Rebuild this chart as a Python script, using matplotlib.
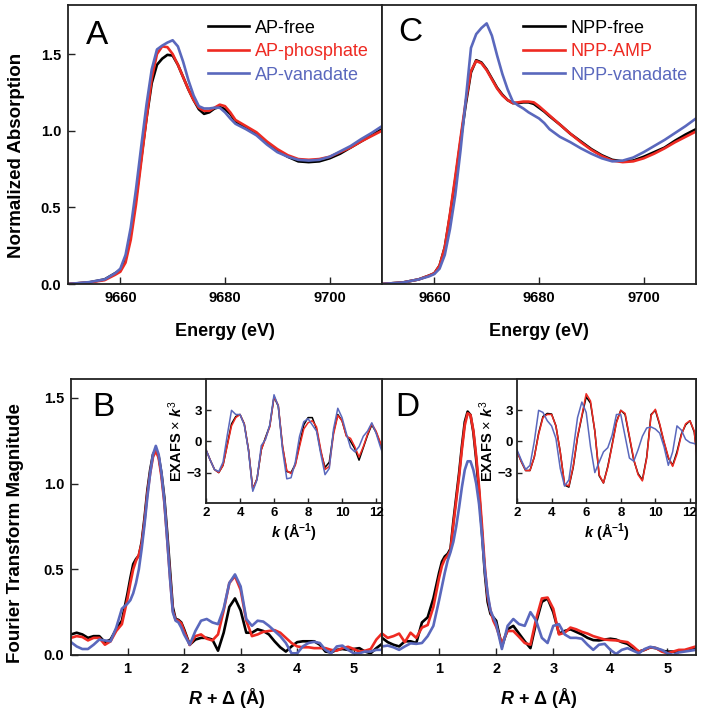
import matplotlib
matplotlib.use("Agg")
import matplotlib.pyplot as plt
from matplotlib.ticker import FormatStrFormatter

plt.rcParams['font.family'] = ['Liberation Sans', 'DejaVu Sans']
plt.rcParams['mathtext.fontset'] = 'custom'
plt.rcParams['mathtext.rm'] = 'Liberation Sans'
plt.rcParams['mathtext.it'] = 'Liberation Sans:italic:bold'
plt.rcParams['mathtext.bf'] = 'Liberation Sans:bold'

BLACK = '#000000'
RED = '#ee2a22'
BLUE = '#5a68bd'

# ---------------- XANES (panels A, C) ----------------
energy = [9650, 9654, 9657, 9659, 9660, 9661, 9662, 9663, 9664, 9665, 9666, 9667, 9668,
          9669, 9670, 9671, 9672, 9673, 9674, 9675, 9676, 9677, 9678, 9679, 9680, 9681,
          9682, 9684, 9686, 9688, 9690, 9692, 9694, 9696, 9698, 9700, 9702, 9704, 9706,
          9708, 9710]

ap_free = [0.0, 0.01, 0.03, 0.07, 0.09, 0.17, 0.33, 0.56, 0.82, 1.08, 1.31, 1.43, 1.47,
           1.495, 1.49, 1.43, 1.35, 1.27, 1.20, 1.14, 1.11, 1.12, 1.145, 1.155, 1.14, 1.11,
           1.06, 1.02, 0.98, 0.92, 0.87, 0.83, 0.80, 0.795, 0.80, 0.82, 0.85, 0.89, 0.93,
           0.97, 1.01]
ap_phosphate = [0.0, 0.01, 0.025, 0.06, 0.08, 0.14, 0.29, 0.52, 0.80, 1.08, 1.34, 1.50, 1.55,
                1.545, 1.50, 1.43, 1.35, 1.27, 1.20, 1.15, 1.13, 1.13, 1.15, 1.17, 1.16, 1.12,
                1.07, 1.03, 0.99, 0.93, 0.88, 0.84, 0.815, 0.81, 0.815, 0.83, 0.86, 0.89, 0.93,
                0.965, 1.0]
ap_vanadate = [0.0, 0.012, 0.03, 0.07, 0.10, 0.19, 0.37, 0.62, 0.90, 1.17, 1.40, 1.53, 1.555,
               1.575, 1.59, 1.55, 1.45, 1.33, 1.23, 1.16, 1.145, 1.145, 1.15, 1.15, 1.12, 1.08,
               1.045, 1.01, 0.97, 0.91, 0.86, 0.83, 0.81, 0.805, 0.81, 0.83, 0.865, 0.90, 0.945,
               0.985, 1.03]

npp_free = [0.0, 0.01, 0.03, 0.055, 0.07, 0.12, 0.24, 0.45, 0.68, 0.93, 1.17, 1.38, 1.46,
            1.445, 1.40, 1.34, 1.28, 1.235, 1.20, 1.18, 1.18, 1.185, 1.185, 1.175, 1.15, 1.125,
            1.095, 1.04, 0.98, 0.93, 0.88, 0.84, 0.81, 0.80, 0.805, 0.83, 0.86, 0.89, 0.935,
            0.975, 1.01]
npp_amp = [0.0, 0.01, 0.03, 0.055, 0.07, 0.12, 0.24, 0.46, 0.70, 0.95, 1.19, 1.39, 1.455,
           1.44, 1.395, 1.335, 1.275, 1.23, 1.20, 1.18, 1.185, 1.19, 1.19, 1.185, 1.16, 1.13,
           1.10, 1.04, 0.98, 0.925, 0.875, 0.835, 0.805, 0.795, 0.80, 0.82, 0.85, 0.885, 0.925,
           0.96, 0.995]
npp_vanadate = [0.0, 0.01, 0.03, 0.05, 0.065, 0.10, 0.19, 0.36, 0.58, 0.87, 1.20, 1.54, 1.63,
                1.67, 1.70, 1.62, 1.49, 1.37, 1.27, 1.19, 1.165, 1.145, 1.12, 1.10, 1.08, 1.05,
                1.01, 0.96, 0.925, 0.885, 0.85, 0.82, 0.80, 0.805, 0.825, 0.86, 0.90, 0.94,
                0.985, 1.03, 1.08]

# ---------------- Fourier transforms (panels B, D) ----------------
r_delta = [0.0, 0.1, 0.2, 0.3, 0.4, 0.5, 0.6, 0.7, 0.8, 0.9,
           1.0, 1.05, 1.1, 1.15, 1.2, 1.25, 1.3, 1.35, 1.4, 1.45, 1.5, 1.55, 1.6, 1.65, 1.7,
           1.75, 1.8, 1.85, 1.9, 1.95, 2.0,
           2.1, 2.2, 2.3, 2.4, 2.5, 2.6, 2.7, 2.8, 2.9, 3.0, 3.1, 3.2, 3.3, 3.4, 3.5, 3.6,
           3.7, 3.8, 3.9, 4.0, 4.1, 4.2, 4.3, 4.4, 4.5, 4.6, 4.7, 4.8, 4.9, 5.0, 5.1, 5.2,
           5.3, 5.4, 5.5]

ft_ap_free = [0.12, 0.13, 0.12, 0.10, 0.11, 0.11, 0.075, 0.09, 0.15, 0.20,
              0.36, 0.45, 0.53, 0.56, 0.58, 0.66, 0.80, 0.96, 1.08, 1.17, 1.20, 1.16, 1.06,
              0.92, 0.72, 0.50, 0.28, 0.21, 0.205, 0.19, 0.15,
              0.06, 0.09, 0.10, 0.10, 0.09, 0.025, 0.13, 0.28, 0.33, 0.26, 0.13, 0.13, 0.15,
              0.14, 0.12, 0.08, 0.045, 0.02, 0.05, 0.075, 0.08, 0.08, 0.08, 0.06, 0.02, 0.015,
              0.03, 0.035, 0.03, 0.035, 0.04, 0.02, 0.01, 0.04, 0.065]
ft_ap_phosphate = [0.10, 0.11, 0.105, 0.085, 0.10, 0.10, 0.06, 0.08, 0.14, 0.18,
                   0.33, 0.42, 0.50, 0.55, 0.585, 0.65, 0.78, 0.94, 1.06, 1.155, 1.19, 1.15,
                   1.04, 0.89, 0.68, 0.46, 0.26, 0.205, 0.20, 0.185, 0.14,
                   0.058, 0.11, 0.12, 0.095, 0.085, 0.12, 0.26, 0.42, 0.46, 0.38, 0.20, 0.11,
                   0.12, 0.135, 0.14, 0.145, 0.13, 0.10, 0.07, 0.05, 0.045, 0.045, 0.04, 0.04,
                   0.04, 0.03, 0.025, 0.04, 0.048, 0.035, 0.02, 0.025, 0.035, 0.09, 0.126]
ft_ap_vanadate = [0.075, 0.05, 0.035, 0.035, 0.06, 0.09, 0.085, 0.08, 0.16, 0.27,
                  0.30, 0.32, 0.36, 0.42, 0.50, 0.62, 0.76, 0.92, 1.06, 1.17, 1.22, 1.17,
                  1.06, 0.90, 0.68, 0.45, 0.25, 0.20, 0.19, 0.16, 0.12,
                  0.06, 0.14, 0.20, 0.21, 0.19, 0.18, 0.27, 0.42, 0.47, 0.40, 0.21, 0.17,
                  0.20, 0.195, 0.17, 0.14, 0.11, 0.07, 0.01, 0.01, 0.05, 0.07, 0.077, 0.07,
                  0.03, 0.01, 0.05, 0.055, 0.03, 0.01, 0.01, 0.02, 0.02, 0.03, 0.03]

ft_npp_free = [0.10, 0.075, 0.06, 0.05, 0.08, 0.08, 0.07, 0.19, 0.22, 0.33,
               0.48, 0.545, 0.575, 0.59, 0.62, 0.78, 0.92, 1.06, 1.22, 1.36, 1.42, 1.40,
               1.30, 1.14, 0.95, 0.72, 0.48, 0.31, 0.24, 0.22, 0.20,
               0.05, 0.15, 0.17, 0.125, 0.08, 0.04, 0.19, 0.31, 0.33, 0.25, 0.125, 0.14,
               0.15, 0.135, 0.12, 0.10, 0.087, 0.085, 0.09, 0.095, 0.09, 0.075, 0.065, 0.04,
               0.02, 0.03, 0.045, 0.04, 0.025, 0.02, 0.02, 0.02, 0.025, 0.035, 0.04]
ft_npp_amp = [0.125, 0.10, 0.11, 0.125, 0.075, 0.13, 0.10, 0.16, 0.175, 0.28,
              0.45, 0.52, 0.56, 0.58, 0.61, 0.76, 0.90, 1.04, 1.20, 1.34, 1.41, 1.40,
              1.31, 1.16, 0.98, 0.76, 0.52, 0.34, 0.26, 0.20, 0.165,
              0.068, 0.14, 0.14, 0.106, 0.07, 0.06, 0.21, 0.33, 0.335, 0.27, 0.12, 0.13,
              0.16, 0.15, 0.135, 0.125, 0.11, 0.10, 0.09, 0.087, 0.085, 0.08, 0.075, 0.05,
              0.02, 0.03, 0.045, 0.04, 0.02, 0.01, 0.02, 0.03, 0.03, 0.04, 0.05]
ft_npp_vanadate = [0.05, 0.055, 0.045, 0.03, 0.05, 0.068, 0.065, 0.07, 0.11, 0.17,
                   0.32, 0.40, 0.48, 0.55, 0.60, 0.66, 0.75, 0.86, 0.98, 1.08, 1.13, 1.13,
                   1.08, 1.00, 0.88, 0.70, 0.50, 0.36, 0.26, 0.22, 0.18,
                   0.035, 0.17, 0.21, 0.18, 0.17, 0.25, 0.20, 0.10, 0.07, 0.17, 0.18, 0.12,
                   0.10, 0.10, 0.095, 0.06, 0.03, 0.06, 0.065, 0.03, 0.006, 0.03, 0.04, 0.025,
                   0.01, 0.035, 0.048, 0.04, 0.03, 0.01, 0.0, 0.015, 0.02, 0.025, 0.03]

# ---------------- EXAFS insets ----------------
k_vals = [2.0, 2.25, 2.5, 2.75, 3.0, 3.25, 3.5, 3.75, 4.0, 4.25, 4.5, 4.75, 5.0, 5.25, 5.5,
          5.75, 6.0, 6.25, 6.5, 6.75, 7.0, 7.25, 7.5, 7.75, 8.0, 8.25, 8.5, 8.75, 9.0, 9.25,
          9.5, 9.75, 10.0, 10.25, 10.5, 10.75, 11.0, 11.25, 11.5, 11.75, 12.0, 12.25, 12.4]

ex_ap_free = [-0.8, -1.8, -2.7, -3.0, -2.3, -0.3, 1.7, 2.4, 2.6, 1.7, -0.8, -4.6, -3.6, -0.8,
              0.4, 1.5, 4.3, 3.4, -0.5, -2.9, -3.0, -2.2, -0.3, 1.6, 2.3, 2.3, 1.2, -1.0, -2.5,
              -2.0, 0.9, 2.6, 2.0, 0.6, 0.0, -0.7, -1.8, -0.6, 0.6, 1.6, 0.9, -0.2, -0.8]
ex_ap_phosphate = [-0.8, -1.8, -2.7, -3.0, -2.3, -0.4, 1.5, 2.3, 2.6, 1.7, -0.8, -4.6, -3.6,
                   -0.8, 0.3, 1.4, 4.3, 3.5, -0.4, -2.8, -3.1, -2.3, -0.5, 1.2, 1.8, 2.0, 1.4,
                   -0.8, -2.7, -2.4, 0.7, 2.5, 2.0, 0.5, 0.3, -0.5, -1.5, -0.5, 0.7, 1.7, 1.0,
                   -0.1, -0.8]
ex_ap_vanadate = [-0.8, -1.8, -2.7, -2.9, -2.0, 0.6, 3.0, 2.6, 2.6, 1.6, -0.9, -4.8, -3.7,
                  -0.4, 0.2, 1.6, 4.5, 3.4, -0.8, -3.6, -3.5, -2.0, 0.5, 1.9, 2.2, 1.6, 1.0,
                  -1.2, -3.2, -2.6, 1.2, 3.2, 2.3, 0.8, -0.6, -1.0, -0.5, 0.5, 1.0, 1.8, 0.8,
                  -0.5, -1.2]

ex_npp_free = [-0.95, -1.95, -2.8, -2.8, -1.5, 0.8, 2.4, 2.7, 2.65, 1.5, -1.0, -4.2, -4.4,
               -2.5, 0.4, 2.4, 4.3, 3.7, 1.0, -3.3, -4.0, -2.4, -0.3, 1.9, 3.0, 2.6, 0.4, -1.8,
               -3.1, -3.7, -1.5, 2.6, 3.0, 1.6, -0.1, -1.6, -2.3, -1.0, 0.7, 1.6, 2.0, 0.9, -1.2]
ex_npp_amp = [-0.95, -1.95, -2.8, -2.8, -1.5, 0.7, 2.3, 2.6, 2.6, 1.5, -1.0, -4.1, -4.3,
              -2.4, 0.5, 2.5, 4.6, 3.9, 1.0, -3.2, -4.0, -2.5, -0.4, 1.8, 3.0, 2.7, 0.5, -1.7,
              -3.2, -3.8, -1.6, 2.5, 3.1, 1.7, 0.0, -1.5, -2.4, -1.2, 0.6, 1.7, 2.0, 1.0, -1.6]
ex_npp_vanadate = [-0.8, -1.8, -2.7, -2.3, 0.0, 3.0, 2.8, 2.0, 1.5, 0.3, -2.6, -4.3, -3.7,
                   -0.8, 2.3, 3.8, 2.8, -0.5, -3.0, -2.0, -1.0, -0.6, 0.6, 2.6, 2.6, 0.5, -1.6,
                   -1.9, -0.8, 0.5, 1.3, 1.4, 1.2, 0.8, -0.5, -2.3, -1.0, 1.5, 1.1, 0.2, -0.1,
                   -0.2, -0.3]

energy_ticks = [9660, 9680, 9700]
xanes_yticks = [0.0, 0.5, 1.0, 1.5]
r_ticks = [1, 2, 3, 4, 5]
ft_yticks = [0.0, 0.5, 1.0, 1.5]
k_ticks = [2, 4, 6, 8, 10, 12]
ex_yticks = [-3, 0, 3]

W, H = 702, 713
fig = plt.figure(figsize=(W / 100, H / 100), dpi=100)


def px_axes(left, top, right, bottom):
    return fig.add_axes([left / W, 1 - bottom / H, (right - left) / W, (bottom - top) / H])


SPINE = '#222222'


def style(ax, fs=10.5, length=5):
    for s in ax.spines.values():
        s.set_linewidth(1.3)
        s.set_color(SPINE)
    ax.tick_params(direction='in', length=length, width=1.0, color=SPINE,
                   labelsize=fs, pad=5)
    for lab in ax.get_xticklabels() + ax.get_yticklabels():
        lab.set_fontweight('bold')


axA = px_axes(68, 5, 382, 284)
axC = px_axes(382, 5, 696, 284)
axB = px_axes(71, 379, 382, 655)
axD = px_axes(382, 379, 696, 655)
inB = px_axes(206, 379, 382, 503)
inD = px_axes(517, 379, 696, 503)

lw = 1.9
for ax, ys, labels, lx in [
    (axA, [ap_free, ap_phosphate, ap_vanadate], ['AP-free', 'AP-phosphate', 'AP-vanadate'], 0.445),
    (axC, [npp_free, npp_amp, npp_vanadate], ['NPP-free', 'NPP-AMP', 'NPP-vanadate'], 0.45),
]:
    for y, c, lab in zip(ys, [BLACK, RED, BLUE], labels):
        ax.plot(energy, y, color=c, lw=lw, label=lab)
    ax.set_xlim(9650, 9710)
    ax.set_ylim(0, 1.82)
    ax.set_xticks(energy_ticks)
    ax.set_yticks(xanes_yticks)
    ax.yaxis.set_major_formatter(FormatStrFormatter('%.1f'))
    ax.set_xlabel('Energy (eV)', fontsize=13, fontweight='bold', labelpad=13)
    ax.legend(loc='upper left', bbox_to_anchor=(lx, 0.947),
              frameon=False, fontsize=13, handlelength=2.3, handletextpad=0.3,
              labelspacing=0.36, borderpad=0, borderaxespad=0, labelcolor='linecolor')
    style(ax, fs=10.5)

axC.tick_params(axis='y', left=False, labelleft=False)

for ax, ys in [
    (axB, [ft_ap_free, ft_ap_phosphate, ft_ap_vanadate]),
    (axD, [ft_npp_free, ft_npp_amp, ft_npp_vanadate]),
]:
    for y, c in zip(ys, [BLACK, RED, BLUE]):
        ax.plot(r_delta, y, color=c, lw=lw)
    ax.set_xlim(0.0, 5.5)
    ax.set_ylim(0, 1.61)
    ax.set_xticks(r_ticks)
    ax.set_yticks(ft_yticks)
    ax.yaxis.set_major_formatter(FormatStrFormatter('%.1f'))
    ax.set_xlabel(r'$R$ + Δ (Å)', fontsize=13, fontweight='bold', labelpad=7)
    style(ax, fs=10.5)

axD.tick_params(axis='y', left=False, labelleft=False)

for ax, ys in [
    (inB, [ex_ap_free, ex_ap_phosphate, ex_ap_vanadate]),
    (inD, [ex_npp_free, ex_npp_amp, ex_npp_vanadate]),
]:
    ax.set_facecolor('white')
    for y, c in zip(ys, [BLACK, RED, BLUE]):
        ax.plot(k_vals, y, color=c, lw=1.1)
    ax.set_xlim(2, 12.35)
    ax.set_ylim(-5.93, 6.02)
    ax.set_xticks(k_ticks)
    ax.set_yticks(ex_yticks)
    ax.set_xlabel(r'$k$ (Å$^{\mathbf{-1}}$)', fontsize=10.5, fontweight='bold', labelpad=1)
    ax.set_ylabel(r'EXAFS $\times$ $k^{3}$', fontsize=10.5, fontweight='bold', labelpad=1)
    style(ax, fs=9.5, length=3.5)
    ax.tick_params(pad=3)

# panel letters
for ax, letter, xy in [(axA, 'A', (86, 44)), (axC, 'C', (398, 41)),
                       (axB, 'B', (92, 416)), (axD, 'D', (395, 416))]:
    fig.text(xy[0] / W, 1 - xy[1] / H, letter, fontsize=24, ha='left', va='baseline')

fig.text(17 / W, 1 - 155 / H, 'Normalized Absorption', rotation=90, fontsize=13.5,
         fontweight='bold', ha='center', va='center')
fig.text(16 / W, 1 - 533 / H, 'Fourier Transform Magnitude', rotation=90, fontsize=13.5,
         fontweight='bold', ha='center', va='center')

fig.savefig('out.png', dpi=100)
